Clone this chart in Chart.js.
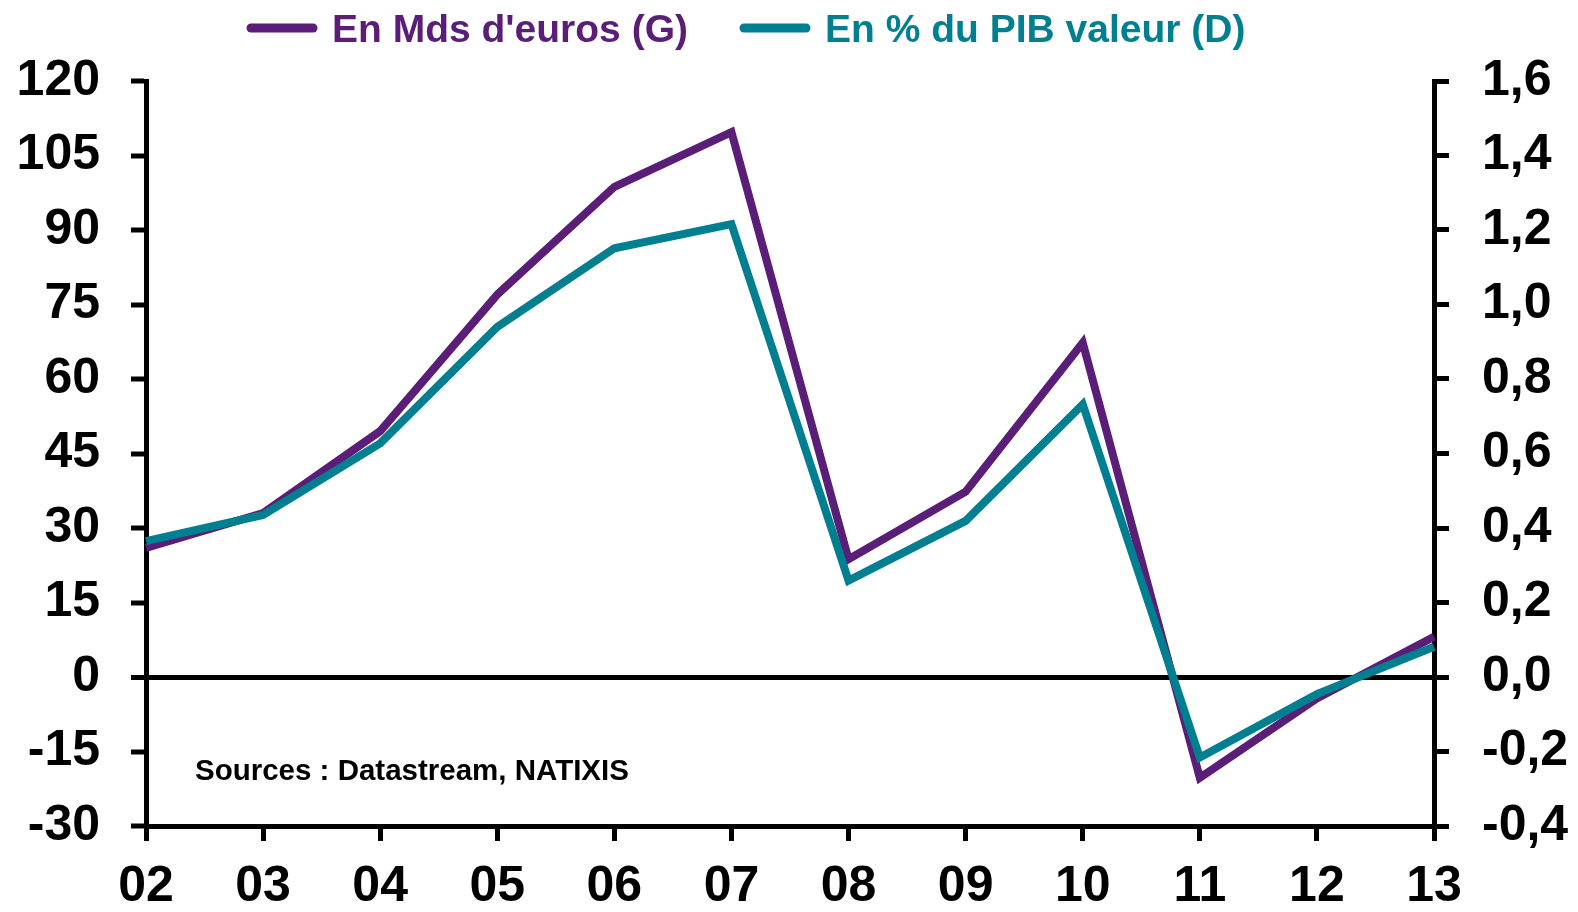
<!DOCTYPE html>
<html>
<head>
<meta charset="utf-8">
<script src="https://cdn.jsdelivr.net/npm/chart.js@4.4.1/dist/chart.umd.min.js"></script>
<style>
  html, body { margin: 0; padding: 0; background: #ffffff; }
  #wrap { width: 1578px; height: 912px; position: relative; }
</style>
</head>
<body>
<div id="wrap"><canvas id="c" width="1578" height="912"></canvas></div>
<script>
const categories = ['02','03','04','05','06','07','08','09','10','11','12','13'];
const mdsEuros = [26, 33, 49.5, 77, 98.7, 109.7, 23.7, 37.3, 67.3, -20.3, -4.3, 8.1];
const pctPib = [0.365, 0.435, 0.627, 0.94, 1.151, 1.216, 0.259, 0.419, 0.732, -0.216, -0.046, 0.081];
const seriesNames = ["En Mds d'euros (G)", "En % du PIB valeur (D)"];
const seriesColors = ['#5A1E78', '#007F91'];
const leftTicks = [-30, -15, 0, 15, 30, 45, 60, 75, 90, 105, 120];
const rightTicks = [-0.4, -0.2, 0, 0.2, 0.4, 0.6, 0.8, 1.0, 1.2, 1.4, 1.6];
const sourceText = 'Sources : Datastream, NATIXIS';

const FONT = '"Liberation Sans", Arial, sans-serif';

// Legend drawn from the datasets (label + colour), placed like the original
const legendPlugin = {
  id: 'topLegend',
  afterDraw(chart) {
    const ctx = chart.ctx;
    const ds = chart.data.datasets;
    const starts = [247, 740];
    const sampleLen = 70;
    const gap = 15;
    const yMid = 28;
    ctx.save();
    ctx.font = 'bold 39px ' + FONT;
    ctx.textBaseline = 'alphabetic';
    ds.forEach((d, i) => {
      const x0 = starts[i];
      ctx.strokeStyle = d.borderColor;
      ctx.lineWidth = 9;
      ctx.lineCap = 'round';
      ctx.beginPath();
      ctx.moveTo(x0 + 4, yMid);
      ctx.lineTo(x0 + sampleLen - 4, yMid);
      ctx.stroke();
      ctx.fillStyle = d.borderColor;
      ctx.fillText(d.label, x0 + sampleLen + gap, yMid + 14);
    });
    ctx.restore();
  }
};

const sourcePlugin = {
  id: 'sourceText',
  afterDraw(chart) {
    const ctx = chart.ctx;
    ctx.save();
    ctx.font = 'bold 29.5px ' + FONT;
    ctx.fillStyle = '#000';
    ctx.textBaseline = 'alphabetic';
    ctx.fillText(sourceText, 195, 780);
    ctx.restore();
  }
};

new Chart(document.getElementById('c'), {
  type: 'line',
  data: {
    labels: categories,
    datasets: [
      { label: seriesNames[0], data: mdsEuros, yAxisID: 'yL', borderColor: seriesColors[0], backgroundColor: seriesColors[0], borderWidth: 8, pointRadius: 0, tension: 0, order: 1, borderJoinStyle: 'miter' },
      { label: seriesNames[1], data: pctPib, yAxisID: 'yR', borderColor: seriesColors[1], backgroundColor: seriesColors[1], borderWidth: 8, pointRadius: 0, tension: 0, order: 0, borderJoinStyle: 'miter' }
    ]
  },
  options: {
    responsive: false,
    animation: false,
    devicePixelRatio: 1,
    layout: { padding: { top: 81, left: 0, right: 0, bottom: 0 } },
    plugins: {
      tooltip: { enabled: false },
      legend: { display: false }
    },
    scales: {
      x: {
        type: 'category',
        offset: false,
        border: { display: true, width: 5, color: '#000' },
        grid: { display: true, drawOnChartArea: false, drawTicks: true, tickLength: 15, tickWidth: 5, tickColor: '#000', color: '#000', lineWidth: 5 },
        ticks: { font: { family: FONT, size: 50, weight: 'bold' }, color: '#000', padding: 16, maxRotation: 0, autoSkip: false },
        afterFit(s) { s.height = 86; }
      },
      yL: {
        type: 'linear',
        position: 'left',
        min: -30, max: 120,
        border: { display: true, width: 5, color: '#000' },
        afterBuildTicks(s) { s.ticks = leftTicks.map(v => ({ value: v })); },
        grid: {
          drawOnChartArea: true,
          drawTicks: true,
          tickLength: 15,
          tickWidth: 5,
          tickColor: '#000',
          color: (c) => (c.tick && c.tick.value === 0) ? '#000' : 'rgba(0,0,0,0)',
          lineWidth: (c) => (c.tick && c.tick.value === 0) ? 5 : 0
        },
        ticks: { font: { family: FONT, size: 50, weight: 'bold' }, color: '#000', padding: 31 },
        afterFit(s) { s.width = 146; }
      },
      yR: {
        type: 'linear',
        position: 'right',
        min: -0.4, max: 1.6,
        border: { display: true, width: 5, color: '#000' },
        afterBuildTicks(s) { s.ticks = rightTicks.map(v => ({ value: v })); },
        grid: { drawOnChartArea: false, drawTicks: true, tickLength: 15, tickWidth: 5, tickColor: '#000' },
        ticks: {
          font: { family: FONT, size: 50, weight: 'bold' }, color: '#000', padding: 33,
          callback: (v) => Number(v).toFixed(1).replace('.', ',')
        },
        afterFit(s) { s.width = 144; }
      }
    }
  },
  plugins: [legendPlugin, sourcePlugin]
});
</script>
</body>
</html>
